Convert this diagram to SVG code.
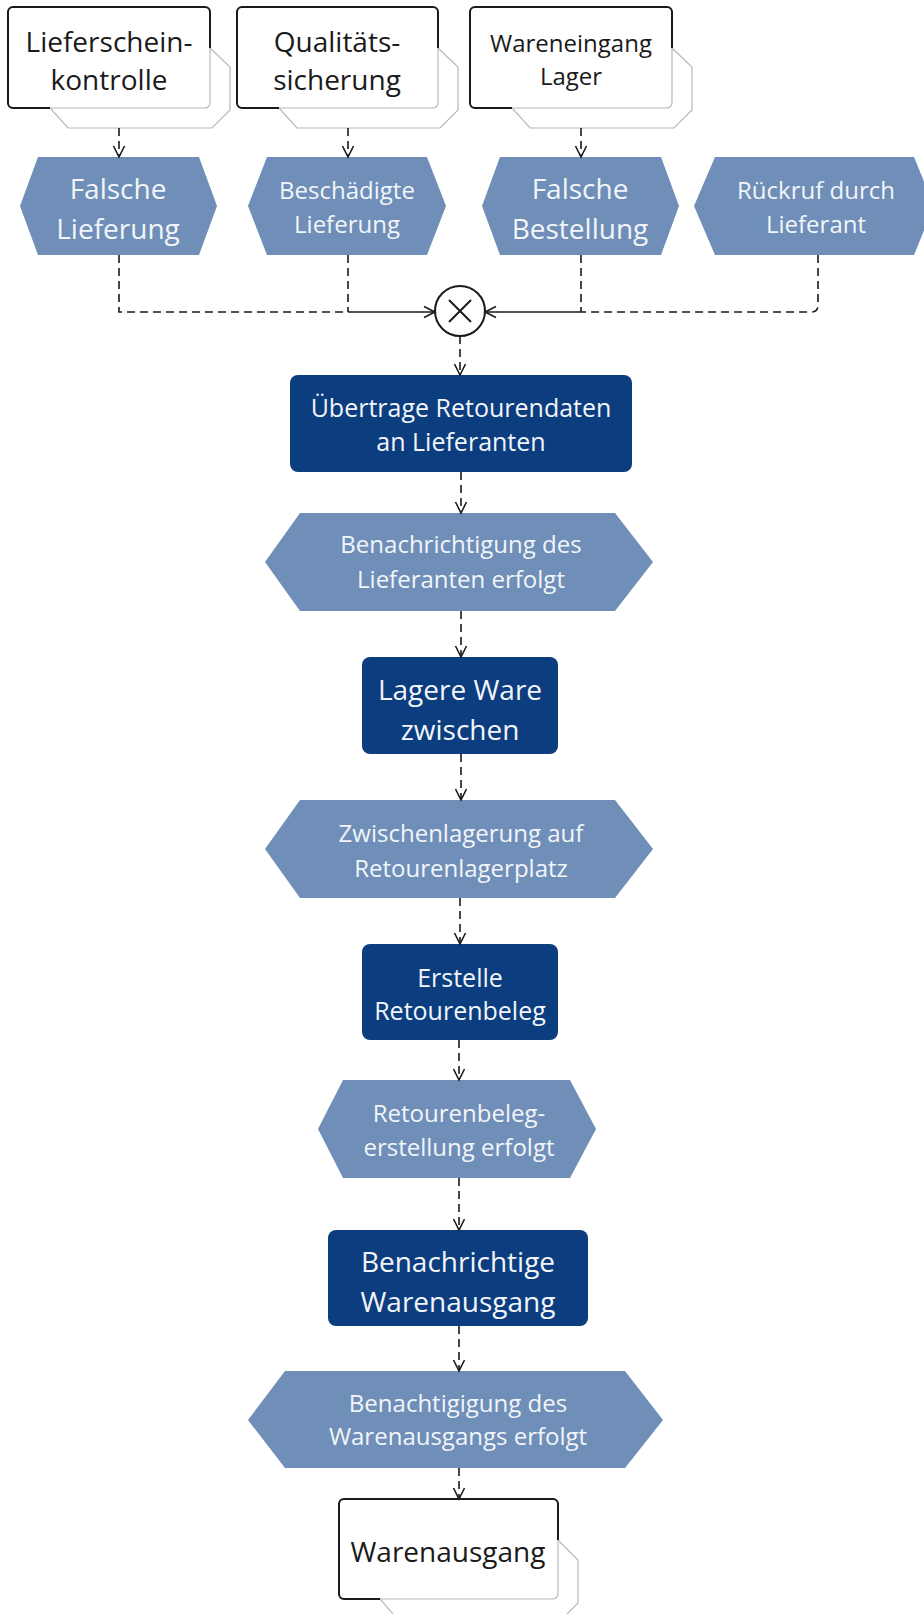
<svg xmlns="http://www.w3.org/2000/svg" width="924" height="1614" viewBox="0 0 924 1614">
<style>
.bg{fill:#ffffff}
.ev{fill:#6f8fb8}
.fn{fill:#0b3d7f}
.orgshadow{fill:#ffffff;stroke:#b8b8b8;stroke-width:1.2}
.orgrect{fill:#ffffff;stroke:#b8b8b8;stroke-width:1.2}
.orgedge{fill:none;stroke:#1a1a1a;stroke-width:2}
.t{font-family:"Open Sans","Liberation Sans",sans-serif;text-anchor:middle}
.tw{fill:#f2f5f9}
.tb{fill:#1a1a1a}
.c{fill:none;stroke:#1a1a1a;stroke-width:1.6}
.d{stroke-dasharray:8 5}
</style>
<defs>
<marker id="arr" markerUnits="userSpaceOnUse" markerWidth="16" markerHeight="16" viewBox="0 0 16 16" refX="13" refY="8" orient="auto">
<path d="M2,2.5 L13,8 L2,13.5" fill="none" stroke="#1a1a1a" stroke-width="1.6"/>
</marker>
</defs>
<rect class="bg" x="0" y="0" width="924" height="1614"/>

<g id="org-lieferscheinkontrolle" transform="translate(8,7)">
<polygon class="orgshadow" points="202,41 222,60 222,103 204,121 60,121 42,101"/>
<rect class="orgrect" x="0" y="0" width="202" height="101" rx="5"/>
<path class="orgedge" d="M42,101 H5 A5,5 0 0 1 0,96 V5 A5,5 0 0 1 5,0 H197 A5,5 0 0 1 202,5 V41"/>
<text class="t tb" font-size="28" x="101" y="45">Lieferschein-</text>
<text class="t tb" font-size="28" x="101" y="83">kontrolle</text>
</g>

<g id="org-qualitaetssicherung" transform="translate(237,7)">
<polygon class="orgshadow" points="201,41 221,60 221,103 203,121 60,121 42,101"/>
<rect class="orgrect" x="0" y="0" width="201" height="101" rx="5"/>
<path class="orgedge" d="M42,101 H5 A5,5 0 0 1 0,96 V5 A5,5 0 0 1 5,0 H196 A5,5 0 0 1 201,5 V41"/>
<text class="t tb" font-size="28" x="100" y="45">Qualitäts-</text>
<text class="t tb" font-size="28" x="100" y="83">sicherung</text>
</g>

<g id="org-wareneingang-lager" transform="translate(470,7)">
<polygon class="orgshadow" points="202,41 222,60 222,103 204,121 60,121 42,101"/>
<rect class="orgrect" x="0" y="0" width="202" height="101" rx="5"/>
<path class="orgedge" d="M42,101 H5 A5,5 0 0 1 0,96 V5 A5,5 0 0 1 5,0 H197 A5,5 0 0 1 202,5 V41"/>
<text class="t tb" font-size="24" x="101" y="45">Wareneingang</text>
<text class="t tb" font-size="24" x="101" y="78">Lager</text>
</g>

<g id="ev-falsche-lieferung">
<polygon class="ev" points="20,206 38,157 199,157 217,206 199,255 38,255"/>
<text class="t tw" font-size="28" x="118" y="199">Falsche</text>
<text class="t tw" font-size="28" x="118" y="239">Lieferung</text>
</g>

<g id="ev-beschaedigte-lieferung">
<polygon class="ev" points="248,206 267,157 427,157 446,206 427,255 267,255"/>
<text class="t tw" font-size="24" x="347" y="199">Beschädigte</text>
<text class="t tw" font-size="24" x="347" y="233">Lieferung</text>
</g>

<g id="ev-falsche-bestellung">
<polygon class="ev" points="482,206 500,157 661,157 679,206 661,255 500,255"/>
<text class="t tw" font-size="28" x="580" y="199">Falsche</text>
<text class="t tw" font-size="28" x="580" y="239">Bestellung</text>
</g>

<g id="ev-rueckruf">
<polygon class="ev" points="694,206 715,157 914,157 934,206 914,255 715,255"/>
<text class="t tw" font-size="24" x="816" y="199">Rückruf durch</text>
<text class="t tw" font-size="24" x="816" y="233">Lieferant</text>
</g>

<g id="xor">
<circle cx="460" cy="311" r="25" fill="#ffffff" stroke="#1a1a1a" stroke-width="2"/>
<path d="M449,300 L471,322 M471,300 L449,322" stroke="#1a1a1a" stroke-width="2" fill="none"/>
</g>

<g id="fn-uebertrage">
<rect class="fn" x="290" y="375" width="342" height="97" rx="8"/>
<text class="t tw" font-size="25" x="461" y="417">Übertrage Retourendaten</text>
<text class="t tw" font-size="25" x="461" y="451">an Lieferanten</text>
</g>

<g id="ev-benachrichtigung-lieferanten">
<polygon class="ev" points="265,562 300,513 615,513 653,562 615,611 300,611"/>
<text class="t tw" font-size="24" x="461" y="553">Benachrichtigung des</text>
<text class="t tw" font-size="24" x="461" y="588">Lieferanten erfolgt</text>
</g>

<g id="fn-lagere">
<rect class="fn" x="362" y="657" width="196" height="97" rx="8"/>
<text class="t tw" font-size="28" x="460" y="700">Lagere Ware</text>
<text class="t tw" font-size="28" x="460" y="740">zwischen</text>
</g>

<g id="ev-zwischenlagerung">
<polygon class="ev" points="265,849 300,800 615,800 653,849 615,898 300,898"/>
<text class="t tw" font-size="24" x="461" y="842">Zwischenlagerung auf</text>
<text class="t tw" font-size="24" x="461" y="877">Retourenlagerplatz</text>
</g>

<g id="fn-erstelle">
<rect class="fn" x="362" y="944" width="196" height="96" rx="8"/>
<text class="t tw" font-size="25" x="460" y="987">Erstelle</text>
<text class="t tw" font-size="25" x="460" y="1020">Retourenbeleg</text>
</g>

<g id="ev-retourenbeleg">
<polygon class="ev" points="318,1129 343,1080 570,1080 596,1129 570,1178 343,1178"/>
<text class="t tw" font-size="24" x="459" y="1122">Retourenbeleg-</text>
<text class="t tw" font-size="24" x="459" y="1156">erstellung erfolgt</text>
</g>

<g id="fn-benachrichtige">
<rect class="fn" x="328" y="1230" width="260" height="96" rx="8"/>
<text class="t tw" font-size="28" x="458" y="1272">Benachrichtige</text>
<text class="t tw" font-size="28" x="458" y="1312">Warenausgang</text>
</g>

<g id="ev-benachtigigung">
<polygon class="ev" points="248,1420 285,1371 625,1371 663,1420 625,1468 285,1468"/>
<text class="t tw" font-size="24" x="458" y="1412">Benachtigigung des</text>
<text class="t tw" font-size="24" x="458" y="1445">Warenausgangs erfolgt</text>
</g>

<g id="org-warenausgang" transform="translate(339,1499)">
<polygon class="orgshadow" points="219,41 239,61 239,104 221,122 60,122 41,100"/>
<rect class="orgrect" x="0" y="0" width="219" height="100" rx="5"/>
<path class="orgedge" d="M41,100 H5 A5,5 0 0 1 0,95 V5 A5,5 0 0 1 5,0 H214 A5,5 0 0 1 219,5 V41"/>
<text class="t tb" font-size="28" x="109" y="63">Warenausgang</text>
</g>

<g id="connectors">
<path class="c d" d="M119,128 V157" marker-end="url(#arr)"/>
<path class="c d" d="M348,128 V157" marker-end="url(#arr)"/>
<path class="c d" d="M581,128 V157" marker-end="url(#arr)"/>
<path class="c d" d="M119,255 V312 H348"/>
<path class="c d" d="M348,255 V312"/>
<path class="c" d="M348,312 H435" marker-end="url(#arr)"/>
<path class="c d" d="M581,255 V312"/>
<path class="c d" d="M818,255 V305 Q818,312 811,312 H581"/>
<path class="c" d="M581,312 H485" marker-end="url(#arr)"/>
<path class="c d" d="M460,336 V375" marker-end="url(#arr)"/>
<path class="c d" d="M461,472 V513" marker-end="url(#arr)"/>
<path class="c d" d="M461,611 V657" marker-end="url(#arr)"/>
<path class="c d" d="M461,754 V800" marker-end="url(#arr)"/>
<path class="c d" d="M460,898 V944" marker-end="url(#arr)"/>
<path class="c d" d="M459,1040 V1080" marker-end="url(#arr)"/>
<path class="c d" d="M459,1178 V1230" marker-end="url(#arr)"/>
<path class="c d" d="M459,1326 V1371" marker-end="url(#arr)"/>
<path class="c d" d="M459,1468 V1499" marker-end="url(#arr)"/>
</g>
</svg>
